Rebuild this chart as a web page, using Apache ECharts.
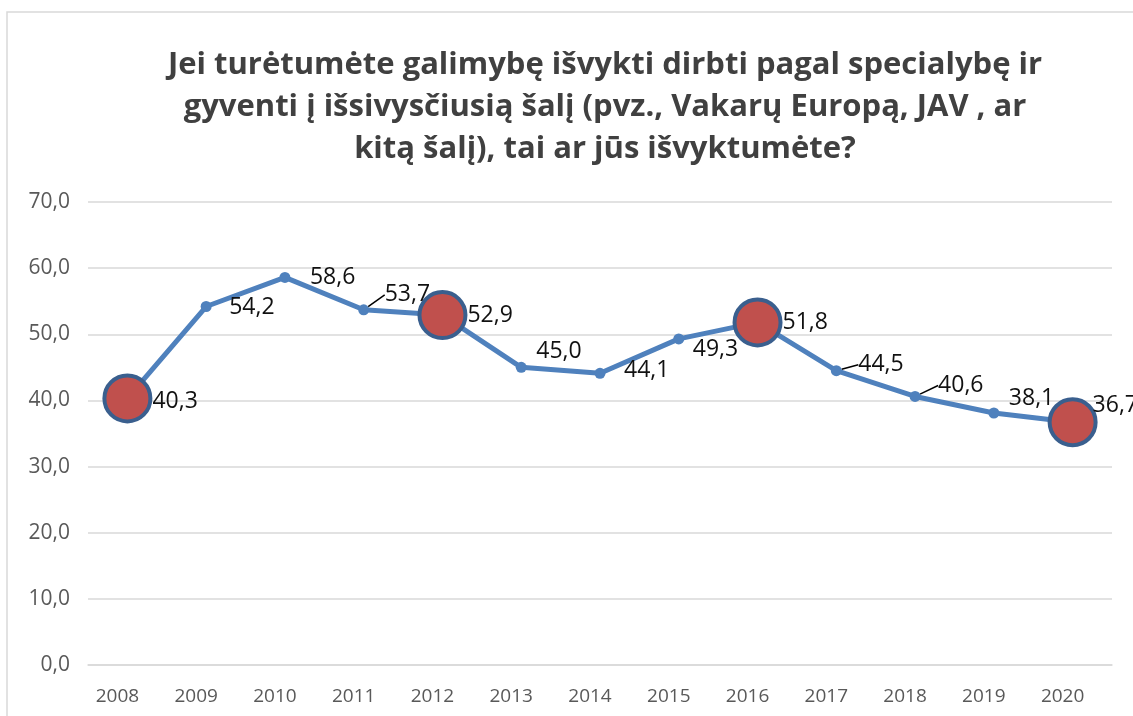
<!DOCTYPE html>
<html>
<head>
<meta charset="utf-8">
<script src="https://cdn.jsdelivr.net/npm/echarts@6/dist/echarts.min.js"></script>
<style>
html,body{margin:0;padding:0;background:#fff;}
#c{width:1133px;height:716px;}
</style>
</head>
<body>
<div id="c"></div>
<script>
const titleLines = [
  'Jei turėtumėte galimybę išvykti dirbti pagal specialybę ir',
  'gyventi į išsivysčiusią šalį (pvz., Vakarų Europą, JAV , ar',
  'kitą šalį), tai ar jūs išvyktumėte?'
];
const years = ['2008','2009','2010','2011','2012','2013','2014','2015','2016','2017','2018','2019','2020'];
const values = [40.3, 54.2, 58.6, 53.7, 52.9, 45.0, 44.1, 49.3, 51.8, 44.5, 40.6, 38.1, 36.7];
const highlightedYears = ['2008','2012','2016','2020'];
const leaderYears = ['2011','2017','2018'];
const yMin = 0, yMax = 70, yStep = 10;

// label placement (layout only): offset from point centre [dx, dy]
const labelOffsets = [[25,3],[23,1],[25,0],[21,-15],[25,0],[15,-16],[24,-3],[14,11],[25,0],[22,-6],[23,-11],[15,-15],[20,-17]];

const fmt = v => Number(v).toFixed(1).replace('.', ',');

const seriesData = years.map((y, i) => {
  const item = { value: values[i] };
  if (highlightedYears.includes(y)) {
    item.symbolSize = 46;
    item.itemStyle = { color: '#c0504d', borderColor: '#3a5f8e', borderWidth: 4 };
  }
  if (leaderYears.includes(y)) {
    item.labelLine = { show: true, lineStyle: { color: '#000', width: 1.5 } };
  }
  return item;
});

const chart = echarts.init(document.getElementById('c'), null, { renderer: 'canvas' });
chart.setOption({
  backgroundColor: '#fff',
  animation: false,
  title: {
    text: titleLines.join('\n'),
    left: 600,
    textAlign: 'center',
    top: 39,
    textStyle: {
      fontFamily: 'Open Sans',
      fontWeight: 'bold',
      fontSize: 31,
      lineHeight: 42,
      color: '#404040'
    }
  },
  graphic: [{
    type: 'rect',
    shape: { x: 7, y: 12, width: 1300, height: 900 },
    style: { fill: 'none', stroke: '#d9d9d9', lineWidth: 1.5 },
    silent: true,
    z: -10
  }],
  grid: { left: 88, right: 21, top: 202, bottom: 51, containLabel: false },
  xAxis: {
    type: 'category',
    data: years,
    boundaryGap: true,
    axisLine: { show: true, lineStyle: { color: '#d9d9d9', width: 1.5 } },
    axisTick: { show: false },
    axisLabel: {
      color: '#595959',
      fontFamily: 'Open Sans',
      fontSize: 19,
      margin: 22,
      padding: [0, 20, 0, 0]
    }
  },
  yAxis: {
    type: 'value',
    min: yMin,
    max: yMax,
    interval: yStep,
    axisLine: { show: false },
    axisTick: { show: false },
    splitLine: { lineStyle: { color: '#d9d9d9', width: 1.5 } },
    axisLabel: {
      color: '#595959',
      fontFamily: 'Open Sans',
      fontSize: 21,
      margin: 18,
      formatter: fmt
    }
  },
  series: [{
    type: 'line',
    data: seriesData,
    symbol: 'circle',
    symbolSize: 11,
    lineStyle: { color: '#4f81bd', width: 5 },
    itemStyle: { color: '#4f81bd' },
    label: {
      show: true,
      color: '#111',
      fontFamily: 'Open Sans',
      fontSize: 23,
      formatter: p => fmt(p.value)
    },
    labelLine: { show: false },
    labelLayout: function (params) {
      const i = params.dataIndex;
      const r = params.rect;
      const o = labelOffsets[i] || [22, 0];
      return {
        x: r.x + r.width / 2 + o[0],
        y: r.y + r.height / 2 + o[1],
        align: 'left',
        verticalAlign: 'middle'
      };
    }
  }]
});
</script>
</body>
</html>
